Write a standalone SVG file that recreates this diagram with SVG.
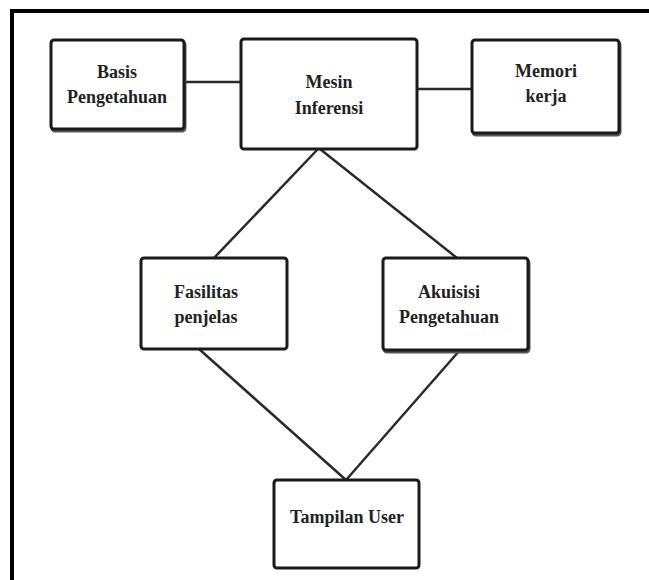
<svg xmlns="http://www.w3.org/2000/svg" width="649" height="580" viewBox="0 0 649 580">
<style>
.box{fill:#fff;stroke:#1a1a1a;stroke-width:3}
.sh{fill:none;stroke:#555;stroke-width:3}
.lbl{font-family:"Liberation Serif","Times New Roman",serif;font-weight:bold;font-size:18px;fill:#222;text-anchor:middle}
.ln{stroke:#2a2a2a;stroke-width:2.5;fill:none}
</style>
<rect width="649" height="580" fill="#fff"/>
<path d="M12 580 V11 H649" fill="none" stroke="#000" stroke-width="4"/>
<g id="connectors">
<line class="ln" x1="184" y1="82" x2="241" y2="82"/>
<line class="ln" x1="417" y1="89" x2="472" y2="89"/>
<line class="ln" x1="318" y1="149" x2="214" y2="258"/>
<line class="ln" x1="320" y1="149" x2="457" y2="258"/>
<line class="ln" x1="199" y1="349" x2="346" y2="480"/>
<line class="ln" x1="460" y1="350" x2="346" y2="480"/>
</g>
<g id="basis">
<rect class="sh" x="52" y="42" width="133" height="89" rx="3"/>
<rect class="box" x="51" y="40" width="133" height="89" rx="3"/>
<text class="lbl" x="117" y="78">Basis</text>
<text class="lbl" x="117" y="103">Pengetahuan</text>
</g>
<g id="mesin">
<rect class="box" x="241" y="39" width="176" height="110" rx="3"/>
<text class="lbl" x="329" y="88">Mesin</text>
<text class="lbl" x="329" y="114">Inferensi</text>
</g>
<g id="memori">
<rect class="sh" x="473" y="42" width="147" height="93" rx="3"/>
<rect class="box" x="472" y="40" width="147" height="93" rx="3"/>
<text class="lbl" x="546" y="77">Memori</text>
<text class="lbl" x="546" y="102">kerja</text>
</g>
<g id="fasilitas">
<rect class="box" x="141" y="258" width="146" height="91" rx="3"/>
<text class="lbl" x="206" y="298">Fasilitas</text>
<text class="lbl" x="206" y="323">penjelas</text>
</g>
<g id="akuisisi">
<rect class="sh" x="384" y="260" width="145" height="92" rx="3"/>
<rect class="box" x="383" y="258" width="145" height="92" rx="3"/>
<text class="lbl" x="449" y="298">Akuisisi</text>
<text class="lbl" x="449" y="323">Pengetahuan</text>
</g>
<g id="tampilan">
<rect class="box" x="274" y="480" width="145" height="88" rx="3"/>
<text class="lbl" x="347" y="523">Tampilan User</text>
</g>
</svg>
